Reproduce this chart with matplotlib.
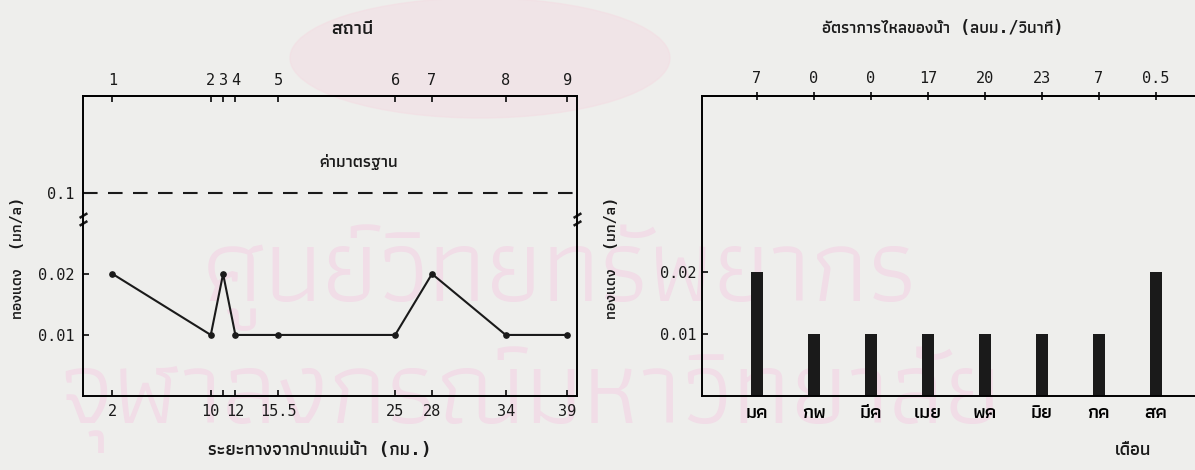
import numpy as np
import matplotlib
matplotlib.use("Agg")
import matplotlib.pyplot as plt
from matplotlib.path import Path
from matplotlib.patches import Ellipse

# copper along the river, one point per station
distance_km = [2, 10, 11, 12, 15.5, 25, 28, 34, 39]
station_no = ['1', '2', '3', '4', '5', '6', '7', '8', '9']
distance_lbl = ['2', '10', '', '12', '15.5', '25', '28', '34', '39']
copper_station = [0.02, 0.01, 0.02, 0.01, 0.01, 0.01, 0.02, 0.01, 0.01]
copper_std = 0.1

# copper by month, with the river flow of that month on top
months = ['มค', 'กพ', 'มีค', 'เมย', 'พค', 'มิย', 'กค', 'สค']
flow_rate = ['7', '0', '0', '17', '20', '23', '7', '0.5']
copper_month = [0.02, 0.01, 0.01, 0.01, 0.01, 0.01, 0.01, 0.02]

NUM = 'DejaVu Sans Mono'
TH = ['DejaVu Sans Mono', 'Athiti']
PAPER = '#eeeeec'
INK = '#1a1a1a'
STAMP = '#f1dde7'

plt.rcParams['font.family'] = TH
plt.rcParams['font.weight'] = 'medium'
plt.rcParams['axes.linewidth'] = 1.4
plt.rcParams['text.color'] = INK

fig = plt.figure(figsize=(11.95, 4.70), dpi=100, facecolor=PAPER)
W, H = 1195.0, 470.0

def box(left, top, right, bottom):
    return [left / W, 1 - bottom / H, (right - left) / W, (bottom - top) / H]

# faint library stamp behind the charts
fig.patches.append(Ellipse((480 / W, 1 - 58 / H), 380 / W, 120 / H, transform=fig.transFigure,
                           color='#f3dde3', alpha=0.55, zorder=-2))
fig.text(560 / W, 1 - 278 / H, 'ศูนย์วิทยทรัพยากร', ha='center', va='center', fontsize=75,
         family='Athiti', weight='regular', color=STAMP, zorder=-1)
fig.text(530 / W, 1 - 400 / H, 'จุฬาลงกรณ์มหาวิทยาลัย', ha='center', va='center', fontsize=76,
         family='Athiti', weight='regular', color=STAMP, zorder=-1)

# ---- left: copper vs distance, broken y axis ----
ax1 = fig.add_axes(box(83, 96, 577, 396))
ax1.patch.set_alpha(0)
v_k = [0, 0.0285, 0.1, 0.2]
p_k = [0, 174, 203, 300]
ax1.set_yscale('function', functions=(lambda v: np.interp(v, v_k, p_k),
                                      lambda p: np.interp(p, p_k, v_k)))
ax1.set_ylim(0, 0.2)
ax1.set_xlim(-0.4, 39.8)

ax1.plot(distance_km, copper_station, color=INK, lw=1.5, marker='o', ms=3.8)
ax1.axhline(copper_std, color=INK, lw=1.5, dashes=(7, 5))
ax1.annotate('ค่ามาตรฐาน', xy=(22, copper_std), xytext=(0, 22), textcoords='offset points',
             ha='center', va='center', fontsize=12, weight='semibold')

ax1.set_yticks([0.01, 0.02, 0.1])
ax1.set_yticklabels(['0.01', '0.02', '0.1'], family=NUM, fontsize=11)
ax1.yaxis.set_minor_locator(matplotlib.ticker.NullLocator())
ax1.set_xticks(distance_km)
ax1.set_xticklabels(distance_lbl, family=NUM, fontsize=11)
ax1.tick_params(direction='in', length=4, width=1.3, pad=6, colors=INK)

top1 = ax1.secondary_xaxis('top')
top1.set_xticks(distance_km)
top1.set_xticklabels(station_no, family=NUM, fontsize=11)
top1.tick_params(direction='in', length=4, width=1.3, pad=6, colors=INK)

# break marks on both sides of the axis
brk = Path([(-1, -1.6), (1, -0.4), (-1, 0.4), (1, 1.6)],
           [Path.MOVETO, Path.LINETO, Path.MOVETO, Path.LINETO])
ax1.plot([0, 1], [0.035, 0.035], transform=ax1.get_yaxis_transform(), ls='none',
         marker=brk, ms=9, mew=1.8, color=INK, clip_on=False)

fig.text(320 / W, 1 - 450 / H, 'ระยะทางจากปากแม่น้ำ (กม.)', ha='center', va='center',
         fontsize=13, weight='semibold')
fig.text(352 / W, 1 - 28 / H, 'สถานี', ha='center', va='center', fontsize=14, weight='semibold')
fig.text(18 / W, 1 - 258 / H, 'ทองแดง  (มก/ล)', ha='center', va='center', rotation=90,
         fontsize=11, weight='semibold')

# ---- right: copper by month ----
ax2 = fig.add_axes(box(702, 96, 1215, 396))
ax2.patch.set_alpha(0)
x = np.arange(len(months))
ax2.bar(x, copper_month, width=0.21, color=INK)
ax2.set_xlim(-0.965, 8.04)
ax2.set_ylim(0, 0.0485)
ax2.spines['right'].set_visible(False)

ax2.set_yticks([0.01, 0.02])
ax2.set_yticklabels(['0.01', '0.02'], family=NUM, fontsize=11)
ax2.set_xticks(x)
ax2.set_xticklabels(months, fontsize=14, weight='semibold')
ax2.tick_params(axis='x', length=0, pad=5)
ax2.tick_params(axis='y', direction='in', length=4, width=1.3, pad=4, colors=INK)

top2 = ax2.secondary_xaxis('top')
top2.set_xticks(x)
top2.set_xticklabels(flow_rate, family=NUM, fontsize=11)
top2.tick_params(direction='inout', length=6, width=1.3, pad=4, colors=INK)

fig.text(1133 / W, 1 - 450 / H, 'เดือน', ha='center', va='center', fontsize=13, weight='semibold')
fig.text(943 / W, 1 - 28 / H, 'อัตราการไหลของน้ำ (ลบม./วินาที)', ha='center', va='center',
         fontsize=12, weight='semibold')
fig.text(612 / W, 1 - 258 / H, 'ทองแดง  (มก/ล)', ha='center', va='center', rotation=90,
         fontsize=11, weight='semibold')

fig.savefig('out.png', dpi=100, facecolor=PAPER)
